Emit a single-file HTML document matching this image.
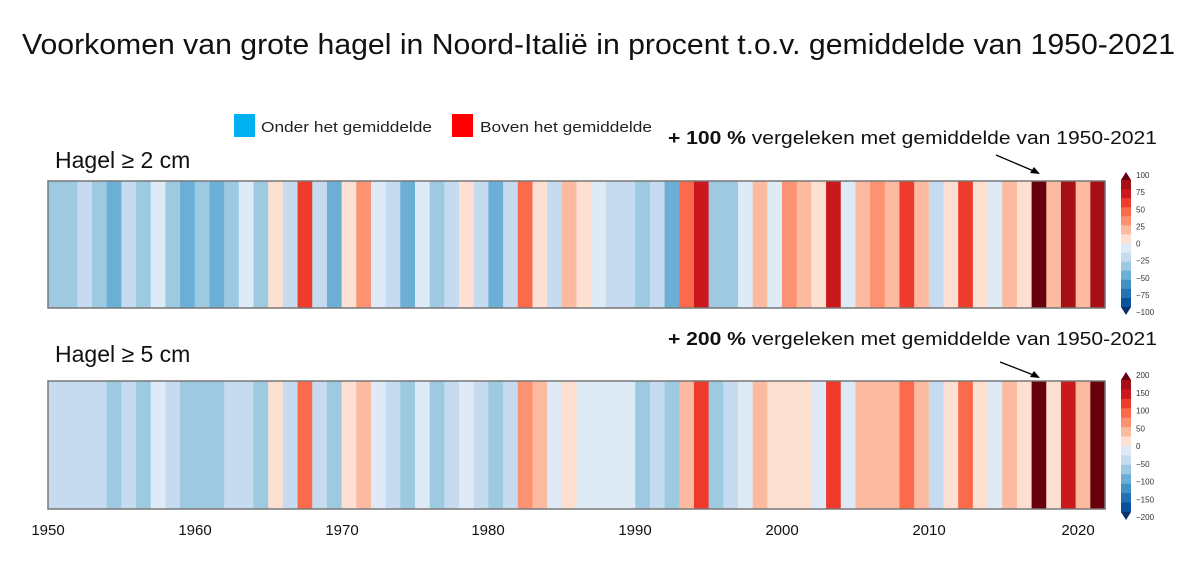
<!DOCTYPE html>
<html><head><meta charset="utf-8"><style>
body{margin:0;background:#fff;width:1200px;height:568px;overflow:hidden;font-family:"Liberation Sans",sans-serif}
</style></head><body>
<svg id="s" width="1200" height="568" xmlns="http://www.w3.org/2000/svg" font-family="Liberation Sans, sans-serif">
<text x="22" y="54" font-size="29" fill="#111" textLength="1153" lengthAdjust="spacingAndGlyphs">Voorkomen van grote hagel in Noord-Italië in procent t.o.v. gemiddelde van 1950-2021</text>
<rect x="234" y="114" width="21" height="23" fill="#00b0f0"/>
<text x="261" y="132" font-size="15" fill="#222" textLength="171" lengthAdjust="spacingAndGlyphs">Onder het gemiddelde</text>
<rect x="452" y="114" width="21" height="23" fill="#ff0000"/>
<text x="480" y="132" font-size="15" fill="#222" textLength="172" lengthAdjust="spacingAndGlyphs">Boven het gemiddelde</text>
<text x="668" y="144" font-size="18.5" fill="#111" textLength="489" lengthAdjust="spacingAndGlyphs"><tspan font-weight="bold">+ 100 %</tspan> vergeleken met gemiddelde van 1950-2021</text>
<text x="668" y="345" font-size="18.5" fill="#111" textLength="489" lengthAdjust="spacingAndGlyphs"><tspan font-weight="bold">+ 200 %</tspan> vergeleken met gemiddelde van 1950-2021</text>
<text x="55" y="168" font-size="23" fill="#111">Hagel ≥ 2 cm</text>
<text x="55" y="362" font-size="23" fill="#111">Hagel ≥ 5 cm</text>
<line x1="996" y1="155" x2="1036" y2="172" stroke="#000" stroke-width="1.3"/>
<polygon points="1040,174 1030,173 1034,167" fill="#000"/>
<line x1="1000" y1="362" x2="1036" y2="376" stroke="#000" stroke-width="1.3"/>
<polygon points="1040,378 1030,377 1034,371" fill="#000"/>
<g id="st"></g>
<g font-size="15" fill="#111" text-anchor="middle">
<text x="48" y="535">1950</text><text x="195" y="535">1960</text><text x="342" y="535">1970</text><text x="488" y="535">1980</text><text x="635" y="535">1990</text><text x="782" y="535">2000</text><text x="929" y="535">2010</text><text x="1078" y="535">2020</text>
</g>
</svg>
<script>
var A="9ecae1",B="c6dbef",C="6baed6",D="deebf7",E="fee0d2",F="fcbba1",G="fc9272",H="fb6a4a",I="ef3b2c",J="cb181d",K="a50f15",L="67000d";
var topArr=[A,A,B,A,C,B,A,D,A,C,A,C,A,D,A,E,B,I,B,C,E,G,D,B,C,D,A,B,E,B,C,B,H,E,B,F,E,D,B,B,A,B,C,H,J,A,A,D,F,D,G,F,E,J,D,F,G,F,I,F,B,E,I,E,D,F,E,L,F,K,F,K];
var botArr=[B,B,B,B,A,B,A,D,B,A,A,A,B,B,A,E,B,H,B,A,E,F,D,B,A,D,A,B,D,B,A,B,G,F,D,E,D,D,D,D,A,B,A,F,I,A,B,D,F,E,E,E,D,I,D,F,F,F,H,F,B,E,H,E,D,F,E,L,E,J,F,L];
var g=document.getElementById("st"),h="",x0=48,w=1057/72;
function strip(arr,y,hh){for(var i=0;i<72;i++){h+='<rect x="'+(x0+i*w).toFixed(2)+'" y="'+y+'" width="'+(w+0.6).toFixed(2)+'" height="'+hh+'" fill="#'+arr[i]+'"/>';}
h+='<rect x="'+x0+'" y="'+y+'" width="1057" height="'+hh+'" fill="none" stroke="#777" stroke-width="1.5"/>';}
strip(topArr,181,127);strip(botArr,381,128);
var cb=[K,J,I,H,G,F,E,D,B,A,C,"4292c6","2171b5","08519c"];
function bar(y0,y1,labs){var n=cb.length,ah=8,s=(y1-y0-2*ah)/n;
h+='<polygon points="1121,'+(y0+ah)+' 1126,'+y0+' 1131,'+(y0+ah)+'" fill="#'+L+'"/>';
for(var i=0;i<n;i++)h+='<rect x="1121" y="'+(y0+ah+i*s).toFixed(2)+'" width="10" height="'+(s+0.5).toFixed(2)+'" fill="#'+cb[i]+'"/>';
h+='<polygon points="1121,'+(y1-ah)+' 1126,'+y1+' 1131,'+(y1-ah)+'" fill="#08306b"/>';
for(var j=0;j<labs.length;j++){var y=y0+3+j*(y1-y0-6)/(labs.length-1);h+='<text x="1136" y="'+(y+3).toFixed(1)+'" font-size="8" fill="#333">'+labs[j]+'</text>';}}
bar(172,315,["100","75","50","25","0","−25","−50","−75","−100"]);
bar(372,520,["200","150","100","50","0","−50","−100","−150","−200"]);
g.innerHTML=h;
</script>
</body></html>
